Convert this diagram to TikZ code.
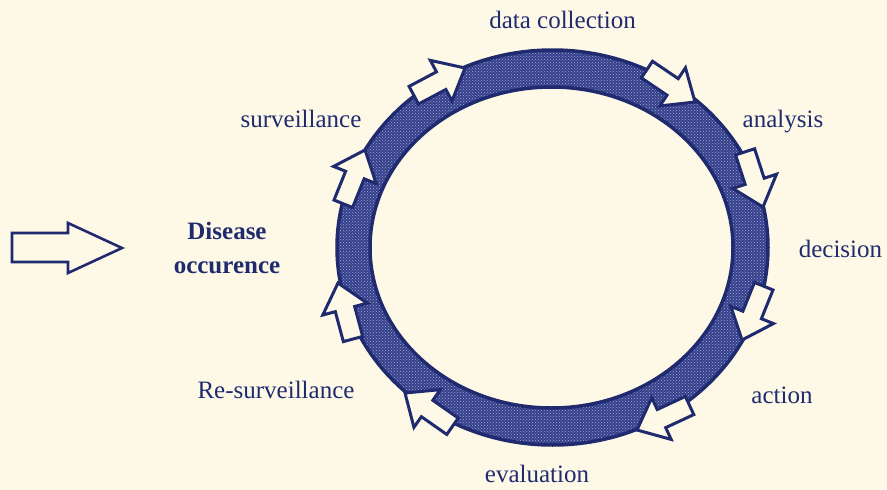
\documentclass[tikz,border=0pt]{standalone}
\usepackage{fontspec}
\setmainfont{Liberation Serif}
\usetikzlibrary{patterns}
\definecolor{paper}{HTML}{FEF9E7}
\definecolor{ink}{HTML}{1F2B6E}
\definecolor{bandfill}{HTML}{34408B}
\definecolor{bandlight}{HTML}{A4A9D2}
\tikzset{
  lbl/.style={text=ink, font=\fontsize{25}{28}\selectfont, inner sep=0pt, anchor=base},
  blockarrow/.style={draw=ink, fill=paper, line width=3pt, line join=miter},
  ringline/.style={draw=ink, line width=3.5pt},
}
% block arrow with its tip at the origin, pointing along +x
\newcommand{\cyclearrow}[3]{%
  \path[blockarrow, shift={(#1,#2)}, rotate=#3]
    (0,0) -- (-27,23) -- (-27,10) -- (-58,10) -- (-58,-10) -- (-27,-10) -- (-27,-23) -- cycle;}
\begin{document}
\begin{tikzpicture}[x=1pt, y=-1pt]
\fill[paper] (0,0) rectangle (887,490);
\useasboundingbox (0,0) rectangle (887,490);

% the ring, a dotted band between two ellipses
\fill[bandfill, even odd rule] (552.5,247.5) ellipse [x radius=215.5, y radius=197.5]
                               (551.5,247.5) ellipse [x radius=181.5, y radius=160.5];
\fill[pattern=crosshatch dots, pattern color=bandlight, even odd rule]
  (552.5,247.5) ellipse [x radius=215.5, y radius=197.5]
  (551.5,247.5) ellipse [x radius=181.5, y radius=160.5];
\draw[ringline] (552.5,247.5) ellipse [x radius=215.5, y radius=197.5];
\draw[ringline] (551.5,247.5) ellipse [x radius=181.5, y radius=160.5];

% arrows running clockwise round the ring
\cyclearrow{465}{68}{28}
\cyclearrow{695}{102}{-34}
\cyclearrow{763}{207}{-72}
\cyclearrow{742}{340}{-112}
\cyclearrow{637}{430}{-155}
\cyclearrow{405}{393}{145}
\cyclearrow{338}{283}{105}
\cyclearrow{365}{150}{68}

% incoming arrow
\path[blockarrow, line width=2.6pt] (12,233) -- (68,233) -- (68,223) -- (122,248)
  -- (68,273) -- (68,262) -- (12,262) -- cycle;

% labels
\node[lbl] (dc) at (562.5,28) {data collection};
\node[lbl] (an) at (783,127) {analysis};
\node[lbl] (de) at (840.5,257) {decision};
\node[lbl] (ac) at (782,403) {action};
\node[lbl] (ev) at (537,482) {evaluation};
\node[lbl] (rs) at (276,398) {Re-surveillance};
\node[lbl] (sv) at (301,127) {surveillance};
\node[lbl, font=\fontsize{25}{34}\selectfont\bfseries, align=center, anchor=center] (do)
  at (227,248) {Disease\\occurence};
\end{tikzpicture}
\end{document}
